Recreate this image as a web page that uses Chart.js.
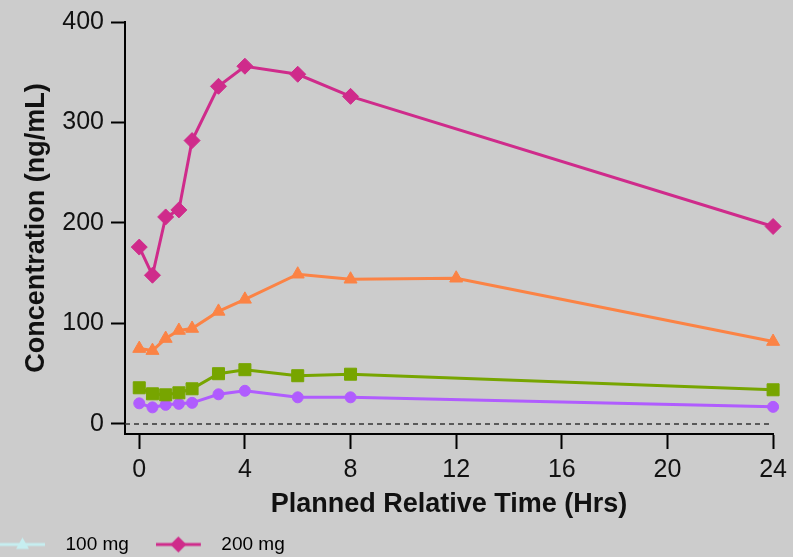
<!DOCTYPE html>
<html>
<head>
<meta charset="utf-8">
<script src="https://cdn.jsdelivr.net/npm/chart.js@4.4.0/dist/chart.umd.min.js"></script>
<style>
  html, body { margin: 0; padding: 0; background: #cccccc; overflow: hidden; width: 793px; height: 557px; }
  #wrap { position: absolute; left: -27px; top: 0; width: 820px; height: 564px; }
</style>
</head>
<body>
<div id="wrap"><canvas id="chart" width="820" height="564"></canvas></div>
<script>
// sampling times (hours)
const timesShort = [0, 0.5, 1, 1.5, 2, 3, 4, 6, 8, 24];
const timesLong = [0, 0.5, 1, 1.5, 2, 3, 4, 6, 8, 12, 24];

// mean concentrations (ng/mL)
const concMagenta = [176, 148, 206, 213, 282, 336, 356, 348, 326, 196.5];
const concOrange = [75, 73, 85, 93, 95, 112, 124, 149, 144, 145, 82];
const concGreen = [36, 30, 29, 31, 35, 50, 54, 48, 49.5, 34];
const concPurple = [20.5, 16.5, 19, 20, 21, 29.5, 33, 26.5, 26.5, 17];
const zeroLine = [0, 0];

const xTicks = [0, 4, 8, 12, 16, 20, 24];
const yTicks = [0, 100, 200, 300, 400];
const xMin = -0.54, xMax = 24;

const legendNames = ['100 mg', '200 mg'];
const legendColors = ['#c6eef0', '#cf2b8b'];
const legendMarkers = ['triangle', 'diamond'];

const FONT = '"Liberation Sans", Arial, Helvetica, sans-serif';

function pts(xs, ys) {
  return ys.map((y, i) => ({ x: xs[i], y: y }));
}

// small line + marker picture used as the legend symbol
function makeSwatch(color, marker) {
  const c = document.createElement('canvas');
  c.width = 56;
  c.height = 20;
  const g = c.getContext('2d');
  g.strokeStyle = color;
  g.fillStyle = color;
  g.lineWidth = 3;
  g.beginPath();
  g.moveTo(0, 10);
  g.lineTo(45, 10);
  g.stroke();
  g.beginPath();
  if (marker === 'triangle') {
    g.moveTo(22.5, 3);
    g.lineTo(29, 14.5);
    g.lineTo(16, 14.5);
  } else {
    g.moveTo(22.5, 2);
    g.lineTo(30.5, 10);
    g.lineTo(22.5, 18);
    g.lineTo(14.5, 10);
  }
  g.closePath();
  g.fill();
  return c;
}

function series(label, xs, ys, color, style, radius) {
  return {
    label: label,
    data: pts(xs, ys),
    borderColor: color,
    backgroundColor: color,
    borderWidth: 3,
    pointStyle: style,
    pointRadius: radius,
    pointBorderWidth: 1,
    pointBorderColor: color,
    pointBackgroundColor: color,
    tension: 0,
    clip: false
  };
}

const ctx = document.getElementById('chart').getContext('2d');
new Chart(ctx, {
  type: 'line',
  data: {
    datasets: [
      series('200 mg', timesShort, concMagenta, '#cf2b8b', 'rectRot', 8),
      series('Orange', timesLong, concOrange, '#fb8345', 'triangle', 7.5),
      series('Green', timesShort, concGreen, '#77a500', 'rect', 8.5),
      series('Purple', timesShort, concPurple, '#b05cfe', 'circle', 5.5),
      {
        label: 'zero',
        data: pts([xMin, xMax], zeroLine),
        borderColor: '#333333',
        borderWidth: 1.5,
        borderDash: [5, 4],
        pointRadius: 0
      }
    ]
  },
  options: {
    responsive: false,
    animation: false,
    layout: { padding: { top: 20, right: 19, left: 0, bottom: 0 } },
    plugins: {
      tooltip: { enabled: false },
      legend: {
        position: 'bottom',
        align: 'start',
        labels: {
          usePointStyle: true,
          pointStyleWidth: 56,
          padding: 27,
          color: '#111111',
          font: { family: FONT, size: 19 },
          generateLabels: () => legendNames.map((name, i) => ({
            text: name,
            fillStyle: legendColors[i],
            strokeStyle: legendColors[i],
            lineWidth: 0,
            hidden: false,
            pointStyle: makeSwatch(legendColors[i], legendMarkers[i])
          }))
        }
      }
    },
    scales: {
      x: {
        type: 'linear',
        min: xMin,
        max: xMax,
        afterBuildTicks: (s) => { s.ticks = xTicks.map(v => ({ value: v })); },
        afterFit: (s) => { s.height = 74; },
        grid: { drawOnChartArea: false, tickLength: 15, tickWidth: 2, tickColor: '#000' },
        border: { color: '#000', width: 2 },
        ticks: { color: '#111', padding: 6, maxRotation: 0, font: { family: FONT, size: 25 } },
        title: {
          display: true,
          text: 'Planned Relative Time (Hrs)',
          color: '#111',
          font: { family: FONT, size: 27, weight: 'bold' },
          padding: { top: 0, bottom: -13 }
        }
      },
      y: {
        type: 'linear',
        min: -10,
        max: 400,
        afterBuildTicks: (s) => { s.ticks = yTicks.map(v => ({ value: v })); },
        afterFit: (s) => { s.width = 152; },
        grid: { drawOnChartArea: false, tickLength: 14, tickWidth: 2, tickColor: '#000' },
        border: { color: '#000', width: 2 },
        ticks: { color: '#111', padding: 7, font: { family: FONT, size: 25 } },
        title: {
          display: true,
          text: 'Concentration (ng/mL)',
          color: '#111',
          font: { family: FONT, size: 27, weight: 'bold' },
          padding: { top: 47, bottom: 0 }
        }
      }
    }
  }
});
</script>
</body>
</html>
